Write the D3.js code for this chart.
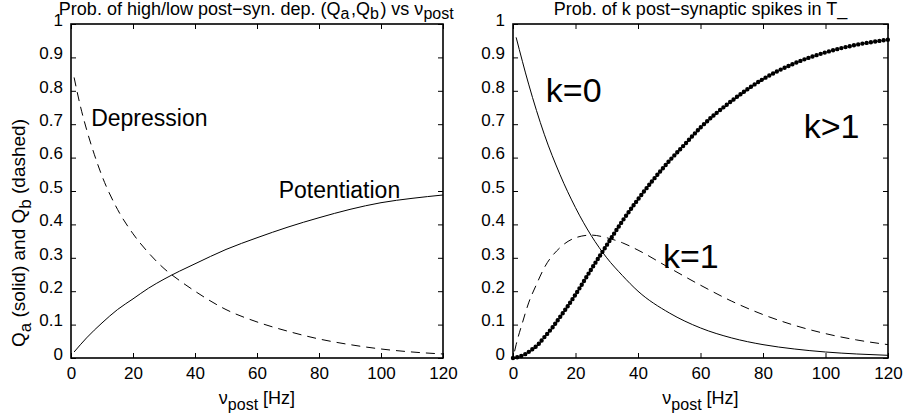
<!DOCTYPE html>
<html>
<head>
<meta charset="utf-8">
<script src="https://cdn.jsdelivr.net/npm/d3@7"></script>
<style>
  body { margin: 0; background: #fff; }
  text { font-family: "Liberation Sans", Arial, Helvetica, sans-serif; fill: #000; }
</style>
</head>
<body>
<svg id="fig" width="907" height="418"></svg>
<script>
"use strict"

// values
var xTicks = [0, 20, 40, 60, 80, 100, 120];
var yTicks = [0, 0.1, 0.2, 0.3, 0.4, 0.5, 0.6, 0.7, 0.8, 0.9, 1];
var yTickLabels = ["0", "0.1", "0.2", "0.3", "0.4", "0.5", "0.6", "0.7", "0.8", "0.9", "1"];

// left panel: Q_a (solid), Q_b (dashed)
var qaNu  = [1, 5, 10, 15, 20, 25, 30, 35, 40, 50, 60, 70, 80, 90, 100, 110, 120];
var qaVal = [0.018, 0.06, 0.105, 0.145, 0.177, 0.209, 0.236, 0.26, 0.282, 0.325, 0.36, 0.392, 0.42, 0.445, 0.465, 0.478, 0.488];
var qbNu  = [1, 3, 5, 7.5, 10, 15, 20, 25, 30, 35, 40, 50, 60, 70, 80, 90, 100, 110, 120];
var qbVal = [0.84, 0.755, 0.685, 0.61, 0.545, 0.445, 0.372, 0.315, 0.268, 0.232, 0.2, 0.145, 0.108, 0.08, 0.057, 0.04, 0.027, 0.018, 0.012];

// right panel: k=0 (solid), k=1 (dashed), k>1 (dotted)
var k0Nu  = [1, 5, 10, 15, 20, 25, 30, 35, 40, 50, 60, 70, 80, 90, 100, 110, 120];
var k0Val = [0.96, 0.82, 0.67, 0.55, 0.45, 0.367, 0.30, 0.247, 0.2, 0.135, 0.09, 0.06, 0.04, 0.027, 0.018, 0.012, 0.008];
var k1Nu  = [0.5, 1, 3, 5, 7.5, 10, 15, 20, 25, 30, 35, 40, 50, 60, 70, 80, 90, 100, 110, 120];
var k1Val = [0.02, 0.04, 0.105, 0.165, 0.22, 0.27, 0.33, 0.36, 0.368, 0.36, 0.345, 0.323, 0.27, 0.218, 0.17, 0.13, 0.098, 0.073, 0.054, 0.04];
var kMoreNu  = [0, 2, 4, 6, 8, 10, 12.5, 15, 17.5, 20, 25, 30, 35, 40, 45, 50, 55, 60, 70, 80, 90, 100, 110, 120];
var kMoreVal = [0, 0.004, 0.012, 0.025, 0.04, 0.062, 0.09, 0.122, 0.155, 0.19, 0.265, 0.338, 0.41, 0.475, 0.535, 0.59, 0.64, 0.69, 0.77, 0.835, 0.882, 0.915, 0.938, 0.953];

var svg = d3.select("#fig");
var yTop = 24, yBottom = 358;

function zip(xs, ys) {
  return xs.map(function(x, i) { return [x, ys[i]]; });
}

function panel(left, right, opts) {
  var x = d3.scaleLinear().domain([0, 120]).range([left, right]);
  var y = d3.scaleLinear().domain([0, 1]).range([yBottom, yTop]);
  var g = svg.append("g");

  // axes, MATLAB style: ticks inside on all four sides
  g.append("g").attr("transform", "translate(0," + yBottom + ")")
    .call(d3.axisBottom(x).tickValues(xTicks).tickSize(-5).tickPadding(9).tickFormat(d3.format("d")))
    .call(style);
  g.append("g").attr("transform", "translate(0," + yTop + ")")
    .call(d3.axisTop(x).tickValues(xTicks).tickSize(-5).tickFormat(""))
    .call(style);
  g.append("g").attr("transform", "translate(" + left + ",0)")
    .call(d3.axisLeft(y).tickValues(yTicks).tickSize(-5).tickPadding(8)
      .tickFormat(function(d, i) { return yTickLabels[i]; }))
    .call(style)
    .selectAll(".tick text").attr("dy", "0.08em");
  g.append("g").attr("transform", "translate(" + right + ",0)")
    .call(d3.axisRight(y).tickValues(yTicks).tickSize(-5).tickFormat(""))
    .call(style);

  g.append("rect")
    .attr("x", left).attr("y", yTop)
    .attr("width", right - left).attr("height", yBottom - yTop)
    .attr("fill", "none").attr("stroke", "#000").attr("stroke-width", 1.6);

  var line = d3.line()
    .x(function(d) { return x(d[0]); })
    .y(function(d) { return y(d[1]); })
    .curve(d3.curveMonotoneX);

  opts.series.forEach(function(s) {
    var p = g.append("path")
      .attr("d", line(s.data))
      .attr("fill", "none")
      .attr("stroke", "#000")
      .attr("stroke-width", s.width || 1);
    if (s.dash) p.attr("stroke-dasharray", s.dash);
    if (s.round) p.attr("stroke-linecap", "round");
  });

  opts.notes.forEach(function(n) {
    g.append("text").attr("x", x(n.nu)).attr("y", y(n.v))
      .attr("font-size", n.size).text(n.text);
  });

  // title
  var t = g.append("text").attr("x", (left + right) / 2).attr("y", 15)
    .attr("text-anchor", "middle").attr("font-size", 18);
  opts.title.forEach(function(part) {
    if (part.sub) {
      t.append("tspan").attr("dy", 4).attr("font-size", 16).text(part.sub);
      t.append("tspan").attr("dy", -4).text("\u200a");
    } else {
      t.append("tspan").text(part.t);
    }
  });

  // x label
  var xl = g.append("text").attr("x", (left + right) / 2).attr("y", 404)
    .attr("text-anchor", "middle").attr("font-size", 18);
  xl.append("tspan").text("\u03bd");
  xl.append("tspan").attr("dy", 6).attr("font-size", 16).text("post");
  xl.append("tspan").attr("dy", -6).text(" [Hz]");

  return {x: x, y: y};
}

function style(sel) {
  sel.select(".domain").remove();
  sel.selectAll(".tick line").attr("stroke", "#000").attr("stroke-width", 1);
  sel.selectAll(".tick text").attr("font-size", 17).attr("fill", "#000")
    .attr("font-family", "Liberation Sans, Arial, sans-serif");
}

panel(71, 443, {
  title: [{t: "Prob. of high/low post\u2212syn. dep. (Q"}, {sub: "a"}, {t: ",Q"}, {sub: "b"},
          {t: ") vs \u03bd"}, {sub: "post"}],
  series: [
    {data: zip(qaNu, qaVal)},
    {data: zip(qbNu, qbVal), dash: "9,6"}
  ],
  notes: [
    {nu: 6.5, v: 0.695, text: "Depression", size: 23},
    {nu: 67, v: 0.48, text: "Potentiation", size: 23}
  ]
});

panel(513, 888, {
  title: [{t: "Prob. of k post\u2212synaptic spikes in T_"}],
  series: [
    {data: zip(k0Nu, k0Val)},
    {data: zip(k1Nu, k1Val), dash: "9,6"},
    {data: zip(kMoreNu, kMoreVal), width: 4.4, dash: "0,4.3", round: true}
  ],
  notes: [
    {nu: 10.5, v: 0.766, text: "k=0", size: 34},
    {nu: 48, v: 0.27, text: "k=1", size: 34},
    {nu: 93, v: 0.66, text: "k>1", size: 34}
  ]
});

// y label of the left panel
var yl = svg.append("text")
  .attr("transform", "translate(25,233) rotate(-90)")
  .attr("text-anchor", "middle").attr("font-size", 19);
yl.append("tspan").text("Q");
yl.append("tspan").attr("dy", 6).attr("font-size", 17).text("a");
yl.append("tspan").attr("dy", -6).text(" (solid) and Q");
yl.append("tspan").attr("dy", 6).attr("font-size", 17).text("b");
yl.append("tspan").attr("dy", -6).text(" (dashed)");
</script>
</body>
</html>
